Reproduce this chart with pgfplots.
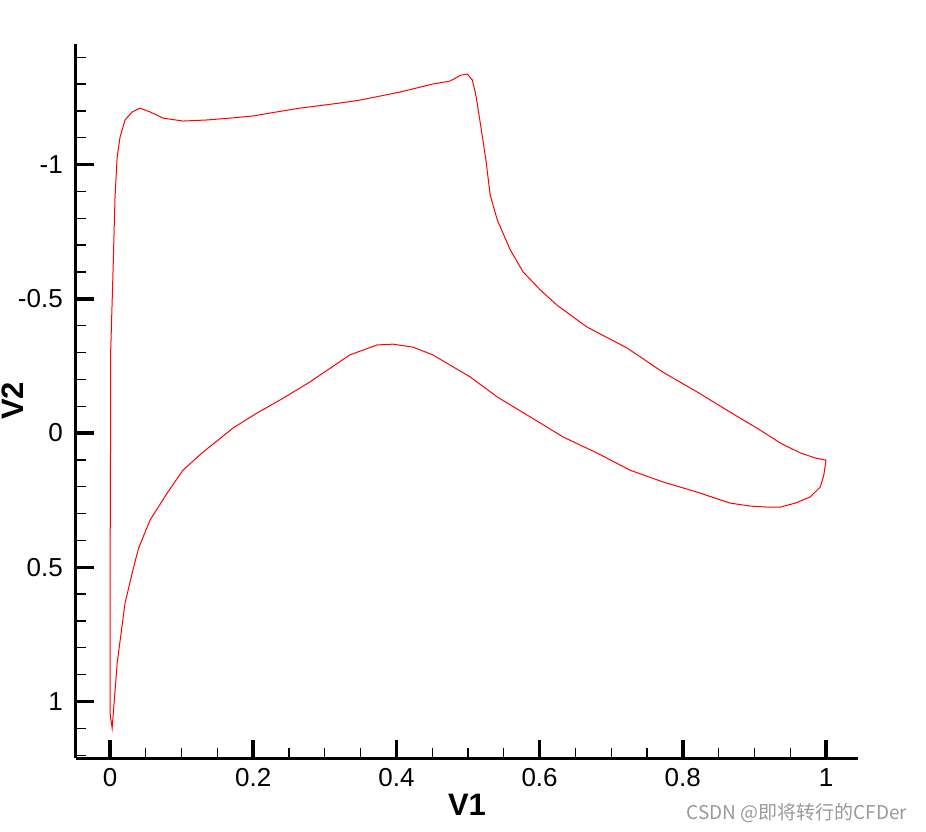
\documentclass[border=0pt]{standalone}
\usepackage{pgfplots}
\pgfplotsset{compat=1.18}
\usepackage{fontspec}
\setmainfont{Liberation Sans}
\newfontfamily\cjk{Noto Sans CJK SC}
\begin{document}
\begin{tikzpicture}
\path[use as bounding box] (0,0) rectangle (926pt,832pt);
\begin{axis}[
  at={(76pt,74pt)}, anchor=south west,
  scale only axis, width=782pt, height=714pt,
  xmin=-0.0475, xmax=1.0447,
  ymin=-1.449, ymax=1.2104,
  y dir=reverse,
  axis lines=left,
  axis line style={-, line width=3pt, black},
  tick align=inside,
  xtick={0,0.2,0.4,0.6,0.8,1},
  xticklabels={0,0.2,0.4,0.6,0.8,1},
  ytick={-1,-0.5,0,0.5,1},
  yticklabels={-1,-0.5,0,0.5,1},
  minor xtick={0.05,0.1,0.15,0.25,0.3,0.35,0.45,0.5,0.55,0.65,0.7,0.75,0.85,0.9,0.95},
  minor ytick={-1.4,-1.3,-1.2,-1.1,-0.9,-0.8,-0.7,-0.6,-0.4,-0.3,-0.2,-0.1,0.1,0.2,0.3,0.4,0.6,0.7,0.8,0.9,1.1,1.2},
  major tick length=18pt, minor tick length=10pt,
  major tick style={line width=3.5pt, black},
  minor tick style={line width=1.3pt, black},
  tick label style={font=\fontsize{26}{26}\selectfont},
  yticklabel style={anchor=east, inner sep=0pt, xshift=-13pt},
  xticklabel style={anchor=north, inner sep=0pt, yshift=-10pt},
  xlabel={\textbf{V1}}, ylabel={\textbf{V2}},
  xlabel style={at={(axis description cs:0.5,0)}, anchor=center, yshift=-47pt, font=\fontsize{31}{31}\selectfont},
  ylabel style={at={([xshift=-63pt]axis description cs:0,0.5)}, anchor=center, font=\fontsize{31}{31}\selectfont},
  clip=false,
]
\addplot[red, line width=1pt] coordinates {
(1.000,0.101) (0.985,0.093) (0.964,0.074) (0.936,0.037) (0.908,-0.011)
(0.866,-0.078) (0.820,-0.153) (0.772,-0.227) (0.722,-0.317) (0.666,-0.395)
(0.624,-0.477) (0.601,-0.533) (0.577,-0.600) (0.559,-0.682) (0.541,-0.793)
(0.531,-0.886) (0.525,-1.017) (0.518,-1.140) (0.511,-1.259) (0.506,-1.315)
(0.499,-1.337) (0.490,-1.333) (0.475,-1.311) (0.451,-1.300) (0.405,-1.270)
(0.349,-1.240) (0.321,-1.229) (0.265,-1.210) (0.233,-1.196) (0.200,-1.181)
(0.168,-1.173) (0.135,-1.166) (0.102,-1.162) (0.074,-1.173) (0.056,-1.196)
(0.042,-1.210) (0.031,-1.196) (0.021,-1.166) (0.014,-1.102) (0.010,-1.028)
(0.007,-0.879) (0.004,-0.581) (0.001,-0.309) (0.0007,0.063) (0.000,0.622)
(0.000,1.043) (0.003,1.099)
(0.010,0.857) (0.021,0.633) (0.032,0.510) (0.040,0.428) (0.056,0.324)
(0.080,0.223) (0.102,0.138) (0.130,0.071) (0.172,-0.019) (0.205,-0.074)
(0.242,-0.130) (0.279,-0.190) (0.335,-0.291) (0.373,-0.328) (0.395,-0.331)
(0.423,-0.320) (0.451,-0.291) (0.475,-0.253) (0.503,-0.209) (0.541,-0.134)
(0.587,-0.060) (0.633,0.015) (0.680,0.074) (0.726,0.138) (0.772,0.182)
(0.820,0.220) (0.866,0.261) (0.894,0.272) (0.919,0.276) (0.936,0.276)
(0.957,0.261) (0.978,0.238) (0.992,0.201) (0.997,0.156) (1.000,0.101)
};
\end{axis}
\node[text=black!40, font=\cjk\fontsize{19}{19}\selectfont, anchor=center] at (797pt,19pt) {CSDN @即将转行的CFDer};
\end{tikzpicture}
\end{document}
